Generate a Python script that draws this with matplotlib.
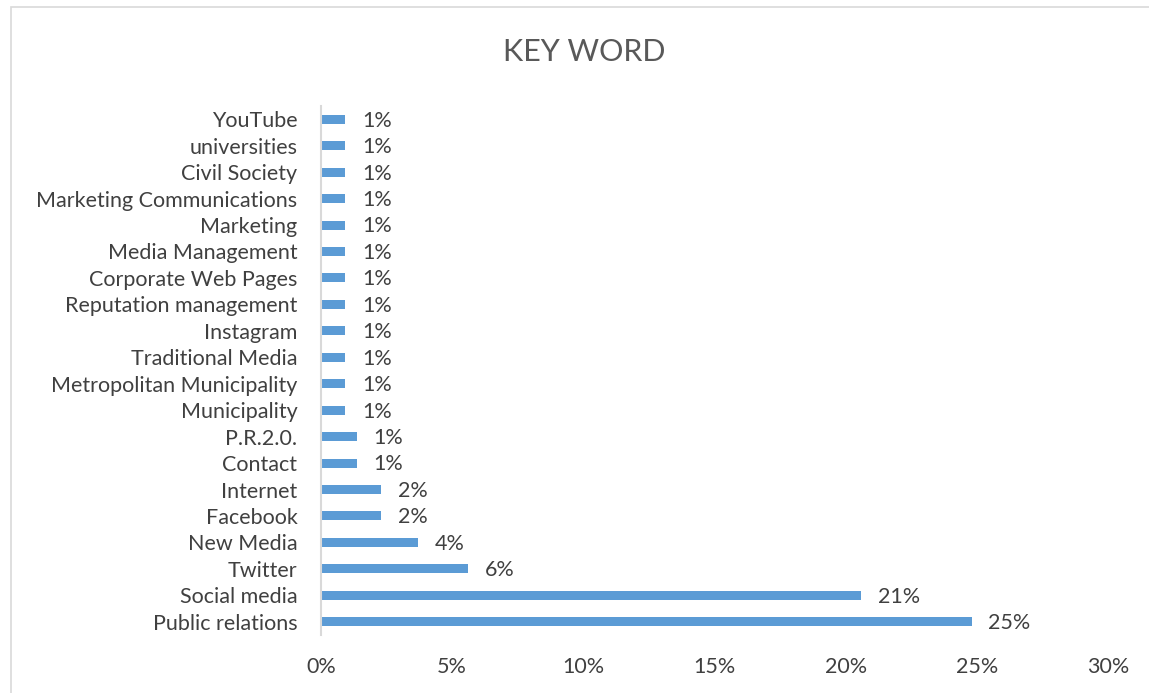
import matplotlib.pyplot as plt
from matplotlib.patches import Rectangle
from matplotlib.ticker import FuncFormatter

plt.rcParams["font.family"] = ["Lato", "DejaVu Sans"]

# bottom -> top, as drawn
keywords = [
    "Public relations", "Social media", "Twitter", "New Media", "Facebook",
    "Internet", "Contact", "P.R.2.0.", "Municipality", "Metropolitan Municipality",
    "Traditional Media", "Instagram", "Reputation management", "Corporate Web Pages",
    "Media Management", "Marketing", "Marketing Communications", "Civil Society",
    "universities", "YouTube",
]
shares = [
    24.8, 20.6, 5.6, 3.7, 2.3,
    2.3, 1.37, 1.37, 0.92, 0.92,
    0.92, 0.92, 0.92, 0.92,
    0.92, 0.92, 0.92, 0.92,
    0.92, 0.92,
]
xticks = [0, 5, 10, 15, 20, 25, 30]

BAR = "#5B9BD5"
TXT = "#404040"
GRID = "#D9D9D9"
FS = 15.5

fig = plt.figure(figsize=(11.49, 6.93), dpi=100)
# chart frame runs off the right and bottom edges
fig.patches.append(Rectangle((10.5 / 1149, -0.1), 1.2, 1.1 - 7.5 / 693,
                             transform=fig.transFigure, fill=False,
                             edgecolor=GRID, linewidth=1.2))

ax = fig.add_axes([321 / 1149, 1 - 635 / 693, (1108 - 321) / 1149, (635 - 106) / 693])
ypos = range(len(keywords))
bars = ax.barh(ypos, shares, height=0.34, color=BAR)

for b, v in zip(bars, shares):
    ax.annotate(f"{v:.0f}%", (b.get_width(), b.get_y() + b.get_height() / 2),
                xytext=(12, -1), textcoords="offset points",
                va="center", ha="left", fontsize=FS, color=TXT)

ax.set_xlim(0, 30)
ax.set_ylim(-0.5, len(keywords) - 0.5)
ax.set_xticks(xticks)
ax.xaxis.set_major_formatter(FuncFormatter(lambda x, _: f"{x:.0f}%"))
ax.set_yticks(list(ypos))
ax.set_yticklabels(keywords)
ax.tick_params(axis="x", length=0, pad=16, labelsize=FS, labelcolor=TXT)
ax.tick_params(axis="y", length=0, pad=17, labelsize=FS, labelcolor=TXT)

for side in ["top", "right", "bottom"]:
    ax.spines[side].set_visible(False)
ax.spines["left"].set_color(GRID)
ax.spines["left"].set_linewidth(1.5)

fig.text(584 / 1149, 1 - 52 / 693, "KEY WORD", ha="center", va="center",
         fontsize=22, color="#595959")

fig.savefig("out.png", dpi=100)
